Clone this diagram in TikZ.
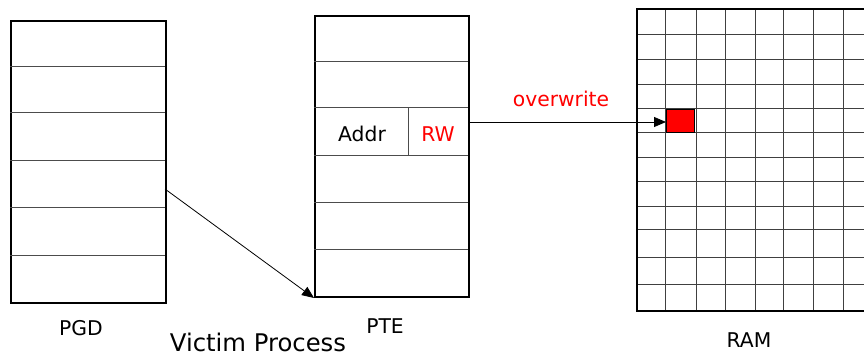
\documentclass[tikz,border=0pt]{standalone}
\usepackage{fontspec}
\setmainfont{DejaVu Sans}
\usetikzlibrary{arrows.meta}
\tikzset{
  tablebox/.style={draw=black, line width=2pt, rectangle, inner sep=0pt, anchor=north west},
  rowline/.style={draw=black!70, line width=1pt},
  gridline/.style={draw=black!75, line width=1pt},
  frameline/.style={draw=black, line width=2pt},
  label/.style={font=\fontsize{20.3}{24}\selectfont, inner sep=0pt},
  bigtitle/.style={font=\fontsize{24.3}{28}\selectfont, inner sep=0pt},
  pointer/.style={draw=black, line width=0.8pt, -{Triangle[length=12pt,width=10pt]}},
  hotcell/.style={draw=black, line width=1pt, fill=red, rectangle, inner sep=0pt, anchor=north west, minimum width=28pt, minimum height=23pt}
}
\begin{document}
\begin{tikzpicture}[x=1pt,y=-1pt]
  \useasboundingbox (0,0) rectangle (864,358);
  \clip (0,0) rectangle (864,358);

  % PGD table
  \node[tablebox, minimum width=155pt, minimum height=282pt] (pgd) at (10,20) {};
  \foreach \r in {67,113,161,207,255}
    \draw[rowline] (10,\r) -- (165,\r);
  \coordinate (pgdout) at (165,189);
  \node[label] (pgdlabel) at (81,328) {PGD};

  % PTE table
  \node[tablebox, minimum width=154pt, minimum height=281pt] (pte) at (314,15) {};
  \foreach \r in {62,108,156,202,249}
    \draw[rowline] (314,\r) -- (468,\r);
  \draw[rowline] (408,108) -- (408,156);
  \node[label] (addr) at (362,134) {Addr};
  \node[label, text=red] (rw) at (438,134) {RW};
  \coordinate (pteout) at (468,122);
  \node[label] (ptelabel) at (385,326) {PTE};

  \node[bigtitle] (victim) at (258,342) {Victim Process};

  % RAM grid
  \foreach \c in {665,696,725,755,783,813,843}
    \draw[gridline] (\c,9) -- (\c,311);
  \foreach \r in {35,60,85,109,133,158,182,206,229,257,284}
    \draw[gridline] (637,\r) -- (870,\r);
  \draw[frameline] (870,9) -- (637,9) -- (637,311) -- (870,311);
  \node[hotcell] (cell) at (666,109) {};
  \node[label] (ramlabel) at (749,340) {RAM};

  % connectors
  \draw[pointer] (pgdout) -- (pte.south west);
  \draw[pointer] (pteout) -- (cell.west |- pteout);
  \node[label, text=red] (overwrite) at (561,99) {overwrite};
\end{tikzpicture}
\end{document}
